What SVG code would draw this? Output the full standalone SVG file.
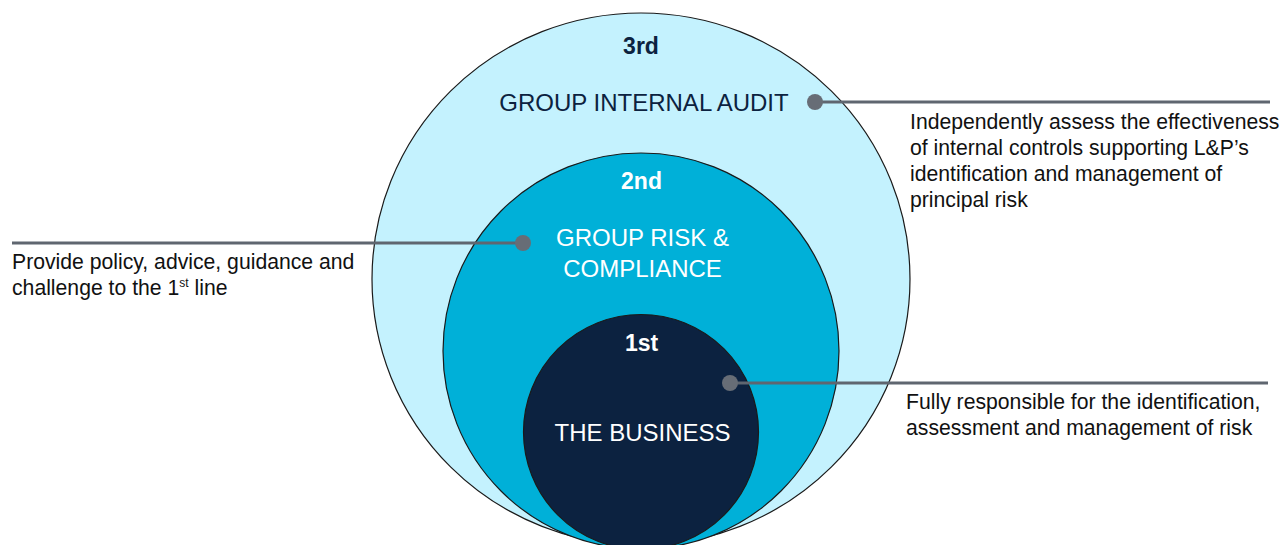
<svg xmlns="http://www.w3.org/2000/svg" width="1283" height="545" viewBox="0 0 1283 545">
<style>
.ring{stroke:#1a1a1a;stroke-width:1.2}
.lbl{font-family:"Liberation Sans",Arial,sans-serif;text-anchor:middle}
.num{font-weight:bold;font-size:23px}
.title{font-size:24px}
.desc{font-family:"Liberation Sans",Arial,sans-serif;font-size:21.2px;fill:#111}
.conn{stroke:#5f6670;stroke-width:3.2;fill:none}
.dot{fill:#676d76}
</style>
<rect width="1283" height="545" fill="#ffffff"/>
<g id="node-3rd">
<ellipse class="ring" cx="641" cy="279" rx="269" ry="266" fill="#c4f2fe"/>
<text class="lbl num" x="641" y="54" fill="#0c2240">3rd</text>
<text class="lbl title" x="644" y="111" fill="#0c2240">GROUP INTERNAL AUDIT</text>
</g>
<g id="node-2nd">
<circle class="ring" cx="641" cy="351" r="198" fill="#00b0d8"/>
<text class="lbl num" x="641.5" y="189" fill="#ffffff">2nd</text>
<text class="lbl title" x="642.5" y="246" fill="#ffffff">GROUP RISK &amp;</text>
<text class="lbl title" x="642.5" y="277" fill="#ffffff">COMPLIANCE</text>
</g>
<g id="node-1st">
<circle class="ring" cx="641" cy="432" r="117.5" fill="#0c2240"/>
<text class="lbl num" x="641.5" y="351" fill="#ffffff">1st</text>
<text class="lbl title" x="642.5" y="441" fill="#ffffff">THE BUSINESS</text>
</g>
<g id="connectors">
<line class="conn" x1="815" y1="102" x2="1270" y2="102"/>
<circle class="dot" cx="815" cy="102" r="8"/>
<line class="conn" x1="12" y1="243" x2="523" y2="243"/>
<circle class="dot" cx="523" cy="243" r="8"/>
<line class="conn" x1="730" y1="383" x2="1268" y2="383"/>
<circle class="dot" cx="730" cy="383" r="8"/>
</g>
<g id="desc-left">
<text class="desc" x="12" y="269">Provide policy, advice, guidance and</text>
<text class="desc" x="12" y="295">challenge to the 1<tspan font-size="12" dy="-8">st</tspan><tspan dy="8"> line</tspan></text>
</g>
<g id="desc-top">
<text class="desc" x="910" y="129">Independently assess the effectiveness</text>
<text class="desc" x="910" y="155">of internal controls supporting L&amp;P’s</text>
<text class="desc" x="910" y="181">identification and management of</text>
<text class="desc" x="910" y="207">principal risk</text>
</g>
<g id="desc-bottom">
<text class="desc" x="906" y="409">Fully responsible for the identification,</text>
<text class="desc" x="906" y="435">assessment and management of risk</text>
</g>
</svg>
